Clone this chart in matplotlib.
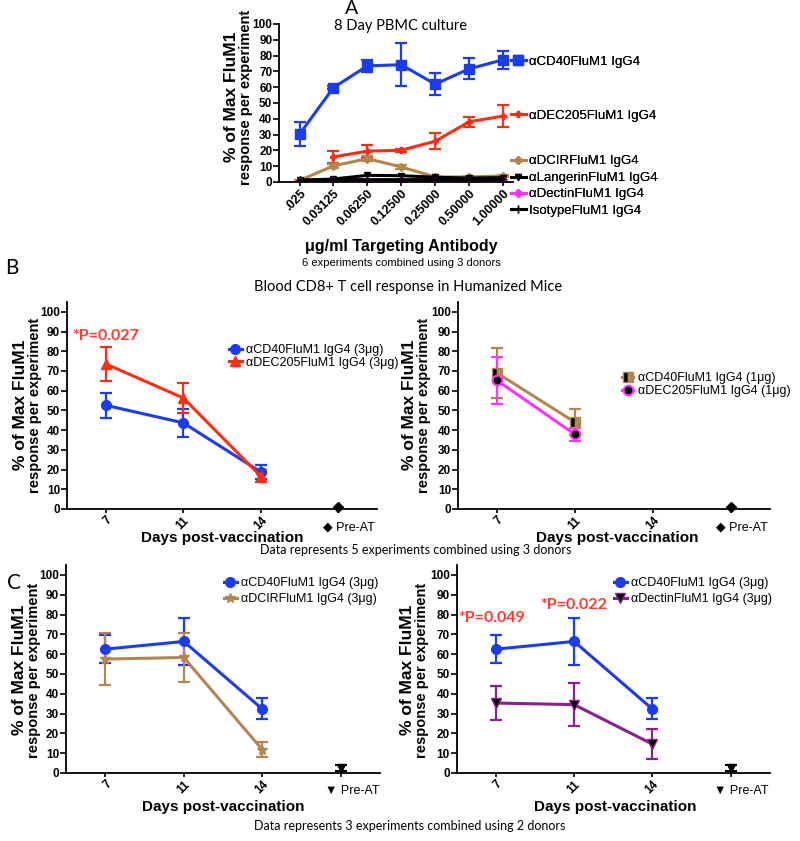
import numpy as np
import matplotlib
matplotlib.use("Agg")
import matplotlib.pyplot as plt

plt.rcParams["font.family"] = ["Liberation Sans", "DejaVu Sans"]

# ---- panel A: 8 day PBMC culture ----
conc_labels = [".025", "0.03125", "0.06250", "0.12500", "0.25000", "0.50000", "1.00000"]
a_cd40 = [30.3, 59.7, 73.5, 74.2, 61.9, 71.6, 77.3]
a_cd40_err = [7.4, 1.0, 3.7, 13.5, 6.8, 6.7, 5.6]
a_dec205 = [np.nan, 15.9, 19.5, 20.1, 25.8, 38.1, 41.7]
a_dec205_err = [np.nan, 4.0, 4.2, 1.0, 5.0, 3.0, 7.0]
a_dcir = [1.0, 10.2, 14.8, 9.5, 3.2, 3.2, 3.8]
a_dcir_err = [0.3, 1.5, 1.5, 1.0, 0.5, 0.5, 0.6]
a_langerin = [1.0, 1.9, 4.2, 4.0, 3.0, 2.5, 2.8]
a_dectin = [0.4, 0.4, 0.5, 0.5, 0.5, 0.5, 0.5]
a_isotype = [1.2, 1.5, 1.5, 1.5, 1.5, 1.5, 1.6]

# ---- panels B and C: days post-vaccination ----
day_labels = ["7", "11", "14"]
days = [0, 1, 2]
preat_x = 3

b_cd40_3 = [52.6, 43.7, 18.8]
b_cd40_3_err = [6.3, 7.0, 3.5]
b_dec205_3 = [73.6, 56.3, 16.6]
b_dec205_3_err = [8.7, 7.4, 3.0]
b_preat = 1.2

b_cd40_1 = [69.0, 44.0]
b_cd40_1_err = [12.5, 6.5]
b_dec205_1 = [65.2, 37.8]
b_dec205_1_err = [12.0, 3.5]

c_cd40 = [62.5, 66.4, 32.3]
c_cd40_err = [7.0, 12.0, 5.3]
c_dcir = [57.5, 58.3, 11.8]
c_dcir_err = [13.0, 12.2, 3.9]
c_dectin = [35.3, 34.5, 14.6]
c_dectin_err = [8.6, 10.7, 7.4]
c_preat = 2.5
c_preat_err = 1.5

BLUE = "#1b3cf2"
RED = "#ff2e12"
BROWN = "#b3854f"
MAGENTA = "#ff33ff"
PURPLE = "#8b1f8f"
PRED = "#ff3a2e"
CAL = ["Lato", "DejaVu Sans"]

W, H = 800, 841


def px(x, y):
    return x / W, 1 - y / H


def series(ax, x, y, err, color, marker, ms=6, **kw):
    return ax.errorbar(x, y, yerr=err, color=color, marker=marker, ms=ms, lw=2.2,
                       elinewidth=1.6, capsize=4.5, capthick=1.6, **kw)


def style_axes(ax, xsize=8.5):
    for s in ("top", "right"):
        ax.spines[s].set_visible(False)
    for s in ("left", "bottom"):
        ax.spines[s].set_linewidth(1.3)
    ax.tick_params(axis="y", length=4, width=1.2, labelsize=8.5, pad=1)
    ax.tick_params(axis="x", length=3, width=1.2, labelsize=xsize, pad=1)
    for t in ax.get_yticklabels():
        t.set_fontweight("bold")


def ylabel(x, y, size1=12.5, size2=10.5):
    fig.text(x, y, "% of Max FluM1", rotation=90, ha="center", va="center",
             fontsize=size1, fontweight="bold")
    fig.text(x + 14 / W, y, "response per experiment", rotation=90, ha="center",
             va="center", fontsize=size2, fontweight="bold")


def days_axes(ax, marker_text):
    ax.set_xlim(-0.5, 3.5)
    ax.set_ylim(0, 105)
    ax.set_yticks(range(0, 101, 10))
    ax.set_xticks([0, 1, 2, 3])
    ax.set_xticklabels(day_labels + [""], rotation=45, ha="right", va="top",
                       rotation_mode="anchor", fontweight="bold")
    style_axes(ax)
    ax.annotate(marker_text + " Pre-AT", xy=(preat_x, 0), xycoords=("data", "axes fraction"),
                xytext=(8, -13), textcoords="offset points", ha="center", va="center",
                fontsize=9)


fig = plt.figure(figsize=(8, 8.41), dpi=100)

# ---------------- panel A ----------------
axA = fig.add_axes([0.349, 0.7836, 0.2925, 0.1879])
xa = np.arange(len(conc_labels))
hA = [
    (series(axA, xa, a_cd40, a_cd40_err, BLUE, "s", ms=6.5), "αCD40FluM1 IgG4", 62),
    (series(axA, xa, a_dec205, a_dec205_err, RED, "P", ms=5), "αDEC205FluM1 IgG4", 116),
    (series(axA, xa, a_dcir, a_dcir_err, BROWN, "D", ms=4.5), "αDCIRFluM1 IgG4", 161),
    (series(axA, xa, a_langerin, None, "black", "v", ms=5), "αLangerinFluM1 IgG4", 178),
    (series(axA, xa, a_dectin, None, MAGENTA, "D", ms=4.5), "αDectinFluM1 IgG4", 194),
    (series(axA, xa, a_isotype, None, "black", "+", ms=6), "IsotypeFluM1 IgG4", 211),
]
axA.set_xlim(-0.6, 6.3)
axA.set_ylim(0, 100)
axA.set_yticks(range(0, 101, 10))
axA.set_xticks(xa)
axA.set_xticklabels(conc_labels, rotation=45, ha="right", va="top",
                    rotation_mode="anchor", fontweight="bold")
style_axes(axA, xsize=9)
for cont, label, ypix in hA:
    leg = fig.legend(handles=[cont.lines[0]], labels=[label], loc="center left",
                     bbox_to_anchor=px(511, ypix), frameon=False, fontsize=9.5,
                     handlelength=1.1, handletextpad=0.3, borderpad=0, borderaxespad=0)
    fig.add_artist(leg)

fig.text(*px(352, 9), "A", fontsize=14, family=CAL, ha="center", va="center")
fig.text(*px(401, 26), "8 Day PBMC culture", fontsize=10.5, family=CAL, ha="center", va="center")
ylabel(*px(232, 97))
fig.text(*px(401, 247), "μg/ml Targeting Antibody", fontsize=11.5, fontweight="bold",
         ha="center", va="center")
fig.text(*px(401, 263), "6 experiments combined using 3 donors", fontsize=8,
         ha="center", va="center")

# ---------------- panel B ----------------
fig.text(*px(12, 268), "B", fontsize=15, family=CAL, ha="center", va="center")
fig.text(*px(408, 287), "Blood CD8+ T cell response in Humanized Mice", fontsize=10.5,
         family=CAL, ha="center", va="center")

axB1 = fig.add_axes([0.08375, 0.3948, 0.3875, 0.2461])
c1 = series(axB1, days, b_cd40_3, b_cd40_3_err, BLUE, "o", ms=7)
c2 = series(axB1, days, b_dec205_3, b_dec205_3_err, RED, "^", ms=7)
axB1.plot([preat_x], [b_preat], marker="D", color="black", ms=5, ls="none", clip_on=False)
days_axes(axB1, "◆")
axB1.text(0, 88, "*P=0.027", color=PRED, fontsize=11.5, fontweight="bold", family=CAL,
          ha="center", va="center")
axB1.legend([c1.lines[0], c2.lines[0]], ["αCD40FluM1 IgG4 (3μg)", "αDEC205FluM1 IgG4 (3μg)"],
            loc="upper left", bbox_to_anchor=px(229, 344), bbox_transform=fig.transFigure,
            frameon=False, fontsize=9, handlelength=1.0, handletextpad=0.35,
            labelspacing=0.05, borderpad=0, borderaxespad=0)
ylabel(*px(21, 405))
fig.text(*px(222, 538), "Days post-vaccination", fontsize=11, fontweight="bold",
         ha="center", va="center")

axB2 = fig.add_axes([0.5725, 0.3948, 0.39, 0.2461])
c3 = series(axB2, days[:2], b_cd40_1, b_cd40_1_err, BROWN, "s", ms=7, mfc="black",
            mfcalt=BROWN, fillstyle="left", mec=BROWN)
c4 = series(axB2, days[:2], b_dec205_1, b_dec205_1_err, MAGENTA, "o", ms=7, mfc="black",
            mec=MAGENTA, mew=1.5)
axB2.plot([preat_x], [b_preat], marker="D", color="black", ms=5, ls="none", clip_on=False)
days_axes(axB2, "◆")
axB2.legend([c3.lines[0], c4.lines[0]], ["αCD40FluM1 IgG4 (1μg)", "αDEC205FluM1 IgG4 (1μg)"],
            loc="upper left", bbox_to_anchor=px(622, 372), bbox_transform=fig.transFigure,
            frameon=False, fontsize=9, handlelength=0.9, handletextpad=0.35,
            labelspacing=0.1, borderpad=0, borderaxespad=0)
ylabel(*px(410, 405))
fig.text(*px(617, 538), "Days post-vaccination", fontsize=11, fontweight="bold",
         ha="center", va="center")
fig.text(*px(416, 550), "Data represents 5 experiments combined using 3 donors", fontsize=9,
         family=CAL, ha="center", va="center")

# ---------------- panel C ----------------
fig.text(*px(14, 583), "C", fontsize=15, family=CAL, ha="center", va="center")

axC1 = fig.add_axes([0.0825, 0.0809, 0.3925, 0.2473])
c5 = series(axC1, days, c_cd40, c_cd40_err, BLUE, "o", ms=7)
c6 = series(axC1, days, c_dcir, c_dcir_err, BROWN, "*", ms=7)
axC1.errorbar([preat_x], [c_preat], yerr=c_preat_err, marker="v", color="black", ms=6,
              capsize=4, elinewidth=1.5, capthick=1.5, ls="none", clip_on=False)
days_axes(axC1, "▼")
axC1.legend([c5.lines[0], c6.lines[0]], ["αCD40FluM1 IgG4 (3μg)", "αDCIRFluM1 IgG4 (3μg)"],
            loc="upper left", bbox_to_anchor=px(224, 577), bbox_transform=fig.transFigure,
            frameon=False, fontsize=9, handlelength=1.0, handletextpad=0.35,
            labelspacing=0.35, borderpad=0, borderaxespad=0)
ylabel(*px(20, 670))
fig.text(*px(223, 807), "Days post-vaccination", fontsize=11, fontweight="bold",
         ha="center", va="center")

axC2 = fig.add_axes([0.571, 0.0809, 0.391, 0.2473])
c7 = series(axC2, days, c_cd40, c_cd40_err, BLUE, "o", ms=7)
c8 = series(axC2, days, c_dectin, c_dectin_err, PURPLE, "v", ms=7, mfc="black", mec=PURPLE)
axC2.errorbar([preat_x], [c_preat], yerr=c_preat_err, marker="v", color="black", ms=6,
              capsize=4, elinewidth=1.5, capthick=1.5, ls="none", clip_on=False)
days_axes(axC2, "▼")
axC2.text(-0.06, 78, "*P=0.049", color=PRED, fontsize=11.5, fontweight="bold", family=CAL,
          ha="center", va="center")
axC2.text(1.0, 85, "*P=0.022", color=PRED, fontsize=11.5, fontweight="bold", family=CAL,
          ha="center", va="center")
axC2.legend([c7.lines[0], c8.lines[0]], ["αCD40FluM1 IgG4 (3μg)", "αDectinFluM1 IgG4 (3μg)"],
            loc="upper left", bbox_to_anchor=px(614, 577), bbox_transform=fig.transFigure,
            frameon=False, fontsize=9, handlelength=1.0, handletextpad=0.35,
            labelspacing=0.35, borderpad=0, borderaxespad=0)
ylabel(*px(408, 670))
fig.text(*px(615, 807), "Days post-vaccination", fontsize=11, fontweight="bold",
         ha="center", va="center")
fig.text(*px(410, 826), "Data represents 3 experiments combined using 2 donors", fontsize=9,
         family=CAL, ha="center", va="center")

fig.savefig("out.png", dpi=100)
